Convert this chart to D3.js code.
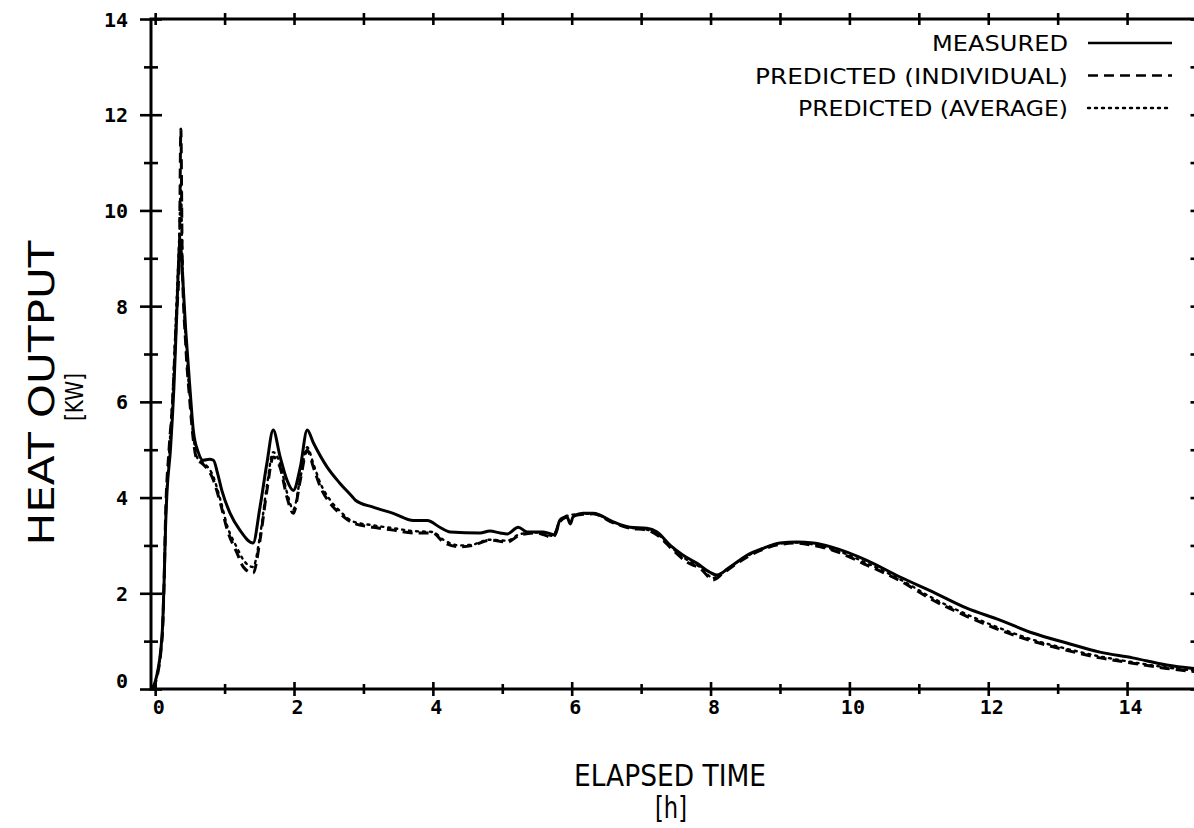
<!DOCTYPE html>
<html><head><meta charset="utf-8">
<script src="https://cdn.jsdelivr.net/npm/d3@7"></script>
<style>
html,body{margin:0;padding:0;background:#fff;}
svg{display:block;}
</style></head>
<body>
<svg id="chart" width="1194" height="828"></svg>
<script>
// ---------- DATA ----------
const measuredT = [-0.04,0.0,0.04,0.08,0.11,0.13,0.15,0.17,0.22,0.27,0.31,0.34,0.36,0.38,0.44,0.50,0.55,0.62,0.69,0.78,0.84,0.90,0.96,1.08,1.22,1.41,1.51,1.61,1.70,1.80,1.90,1.99,2.09,2.19,2.28,2.48,2.66,2.85,2.88,3.14,3.43,3.72,3.92,4.10,4.25,4.68,4.82,4.97,5.07,5.23,5.36,5.59,5.76,5.83,5.93,5.98,6.02,6.16,6.31,6.60,6.84,7.08,7.23,7.42,7.60,7.80,7.99,8.09,8.28,8.53,8.76,9.0,9.24,9.48,9.76,10.25,10.73,11.2,11.69,12.17,12.64,13.13,13.61,14.08,14.57,15.0];
const measuredV = [0.02,0.15,0.4,0.8,1.4,2.3,3.4,4.1,5.0,6.3,7.8,9.0,9.4,9.0,7.5,6.3,5.4,4.95,4.78,4.8,4.78,4.5,4.15,3.67,3.32,3.05,3.8,4.72,5.41,4.85,4.36,4.15,4.63,5.41,5.14,4.63,4.30,4.0,3.95,3.8,3.67,3.52,3.52,3.38,3.28,3.26,3.30,3.26,3.24,3.38,3.28,3.28,3.22,3.53,3.6,3.45,3.6,3.67,3.67,3.49,3.38,3.36,3.28,3.0,2.8,2.63,2.44,2.38,2.55,2.80,2.94,3.05,3.07,3.05,2.96,2.69,2.34,2.03,1.69,1.44,1.17,0.96,0.77,0.65,0.50,0.42];

const individualT = [-0.04,0.0,0.04,0.08,0.11,0.13,0.15,0.20,0.25,0.30,0.35,0.37,0.39,0.44,0.50,0.55,0.60,0.67,0.75,0.82,0.94,1.04,1.18,1.27,1.41,1.51,1.61,1.70,1.80,1.90,1.99,2.09,2.19,2.28,2.38,2.52,2.66,2.85,3.14,3.43,3.72,4.0,4.15,4.39,4.58,4.82,5.07,5.26,5.50,5.73,5.83,5.93,6.16,6.31,6.60,6.84,7.08,7.23,7.46,7.66,7.85,8.04,8.18,8.53,8.76,9.0,9.24,9.48,9.76,10.25,10.73,11.2,11.69,12.17,12.64,13.13,13.61,14.08,14.57,15.0];
const individualV = [0.0,0.12,0.35,0.75,1.35,2.3,3.6,5.0,6.0,7.6,9.2,11.7,9.0,7.2,6.0,5.2,4.8,4.72,4.6,4.43,3.88,3.32,2.84,2.55,2.42,3.11,4.15,4.85,4.63,4.0,3.67,4.36,4.99,4.63,4.22,3.88,3.67,3.47,3.38,3.32,3.26,3.26,3.07,2.97,3.0,3.11,3.07,3.22,3.26,3.17,3.5,3.6,3.65,3.66,3.47,3.36,3.32,3.22,2.90,2.65,2.52,2.28,2.42,2.76,2.92,3.02,3.05,3.0,2.90,2.59,2.26,1.86,1.52,1.23,1.0,0.81,0.65,0.54,0.43,0.36];

const averageT = [-0.04,0.0,0.04,0.08,0.11,0.13,0.15,0.20,0.25,0.30,0.35,0.37,0.39,0.44,0.50,0.55,0.60,0.67,0.75,0.82,0.94,1.04,1.18,1.27,1.41,1.51,1.61,1.70,1.80,1.90,1.99,2.09,2.19,2.28,2.38,2.52,2.66,2.85,3.14,3.43,3.72,4.0,4.15,4.39,4.58,4.82,5.07,5.26,5.50,5.73,5.83,5.93,6.16,6.31,6.60,6.84,7.08,7.23,7.46,7.66,7.85,8.04,8.18,8.53,8.76,9.0,9.24,9.48,9.76,10.25,10.73,11.2,11.69,12.17,12.64,13.13,13.61,14.08,14.57,15.0];
const averageV = [0.0,0.12,0.38,0.78,1.38,2.3,3.5,4.9,6.1,7.8,9.6,10.6,9.1,7.3,6.1,5.3,4.85,4.75,4.65,4.5,3.95,3.4,2.95,2.7,2.55,3.2,4.25,4.95,4.7,4.1,3.75,4.4,5.05,4.7,4.3,3.95,3.72,3.5,3.42,3.36,3.3,3.28,3.12,3.0,3.02,3.12,3.1,3.24,3.27,3.2,3.52,3.62,3.66,3.66,3.48,3.37,3.33,3.24,2.93,2.7,2.55,2.32,2.45,2.78,2.94,3.04,3.06,3.02,2.92,2.63,2.29,1.9,1.56,1.27,1.03,0.84,0.68,0.56,0.45,0.38];

const xMajorTicks = [0,2,4,6,8,10,12,14];
const xMinorTicks = [1,3,5,7,9,11,13];
const yMajorTicks = [0,2,4,6,8,10,12,14];
const yMinorTicks = [1,3,5,7,9,11,13];
const legendLabels = ["MEASURED","PREDICTED (INDIVIDUAL)","PREDICTED (AVERAGE)"];
const xTitle = "ELAPSED TIME", xUnit = "[h]";
const yTitle = "HEAT OUTPUT", yUnit = "[KW]";

// ---------- SCALES ----------
const svg = d3.select("#chart");
const x = d3.scaleLinear().domain([-0.06, 15]).range([151, 1196.5]);
const y = d3.scaleLinear().domain([0, 14]).range([689, 19]);
const X0 = 151, X1 = 1196.5, Y0 = 689, Y1 = 19;

const ink = "#000";
const labelFont = "'DejaVu Sans Mono', monospace";
const titleFont = "'DejaVu Sans', sans-serif";

// ---------- FRAME ----------
svg.append("rect").attr("x", X0).attr("y", Y1).attr("width", X1 - X0).attr("height", Y0 - Y1)
  .attr("fill", "none").attr("stroke", ink).attr("stroke-width", 3);

function crossTicks(g, half, orient) {
  g.select(".domain").remove();
  g.selectAll(".tick line").attr("stroke", ink).attr("stroke-width", 2.6);
  if (orient === "v") g.selectAll(".tick line").attr("x1", -half).attr("x2", half);
  else g.selectAll(".tick line").attr("y1", -half).attr("y2", half);
}

// left axis
const gL = svg.append("g").attr("transform", `translate(${X0},0)`)
  .call(d3.axisLeft(y).tickValues(yMajorTicks).tickSize(11).tickFormat(d3.format("d")));
crossTicks(gL, 11, "v");
gL.selectAll(".tick text").attr("x", -23).attr("dy", "0.35em")
  .attr("font-family", labelFont).attr("font-weight", "bold").attr("font-size", 20).attr("fill", ink)
  .attr("text-anchor", "end")
  .attr("transform", d => d === 0 ? "translate(0,-9)" : null);
const gLm = svg.append("g").attr("transform", `translate(${X0},0)`)
  .call(d3.axisLeft(y).tickValues(yMinorTicks).tickSize(7).tickFormat(""));
crossTicks(gLm, 7, "v");

// right axis (inward ticks only visible)
const gR = svg.append("g").attr("transform", `translate(${X1},0)`)
  .call(d3.axisRight(y).tickValues(yMajorTicks.concat(yMinorTicks)).tickSize(6).tickFormat(""));
crossTicks(gR, 6, "v");

// bottom axis
const gB = svg.append("g").attr("transform", `translate(0,${Y0})`)
  .call(d3.axisBottom(x).tickValues(xMajorTicks).tickSize(7).tickFormat(d3.format("d")));
crossTicks(gB, 7, "h");
gB.selectAll(".tick text").attr("y", 18).attr("dy", "0.35em").attr("dx", 3)
  .attr("font-family", labelFont).attr("font-weight", "bold").attr("font-size", 20).attr("fill", ink);
const gBm = svg.append("g").attr("transform", `translate(0,${Y0})`)
  .call(d3.axisBottom(x).tickValues(xMinorTicks).tickSize(5).tickFormat(""));
crossTicks(gBm, 5, "h");

// top axis
const gT = svg.append("g").attr("transform", `translate(0,${Y1})`)
  .call(d3.axisTop(x).tickValues(xMajorTicks.concat(xMinorTicks)).tickSize(6).tickFormat(""));
crossTicks(gT, 6, "h");

// ---------- LINES ----------
const line = d3.line().x(d => x(d[0])).y(d => y(d[1])).curve(d3.curveMonotoneX);
const zip = (a, b) => a.map((t, i) => [t, b[i]]);
svg.append("clipPath").attr("id", "plotclip").append("rect")
  .attr("x", X0).attr("y", Y1 - 2).attr("width", X1 - X0).attr("height", Y0 - Y1 + 6);

const plot = svg.append("g").attr("clip-path", "url(#plotclip)");
plot.append("path").datum(zip(averageT, averageV)).attr("d", line)
  .attr("fill", "none").attr("stroke", ink).attr("stroke-width", 2.4)
  .attr("stroke-dasharray", "2,5").attr("stroke-linecap", "round");
plot.append("path").datum(zip(individualT, individualV)).attr("d", line)
  .attr("fill", "none").attr("stroke", ink).attr("stroke-width", 3)
  .attr("stroke-dasharray", "10,6").attr("stroke-linejoin", "round");
plot.append("path").datum(zip(measuredT, measuredV)).attr("d", line)
  .attr("fill", "none").attr("stroke", ink).attr("stroke-width", 3)
  .attr("stroke-linejoin", "round");

// ---------- LEGEND ----------
const legendStyles = [null, "10,6", "2,5"];
const legendWidths = [136, 313, 270];
const leg = svg.append("g");
legendLabels.forEach((lab, i) => {
  const cy = 43 + i * 32.5;
  leg.append("text").attr("x", 1068).attr("y", cy + 8).attr("text-anchor", "end")
    .attr("font-family", titleFont).attr("font-size", 21).attr("fill", ink)
    .attr("textLength", legendWidths[i]).attr("lengthAdjust", "spacingAndGlyphs")
    .text(lab);
  leg.append("line").attr("x1", 1088).attr("x2", 1172).attr("y1", cy).attr("y2", cy)
    .attr("stroke", ink).attr("stroke-width", i === 2 ? 2.4 : 2.6)
    .attr("stroke-dasharray", legendStyles[i]).attr("stroke-linecap", i === 2 ? "round" : "butt");
});

// ---------- AXIS TITLES ----------
svg.append("text").attr("transform", "translate(54,393) rotate(-90)").attr("text-anchor", "middle")
  .attr("font-family", titleFont).attr("font-size", 36).attr("fill", ink)
  .attr("textLength", 305).attr("lengthAdjust", "spacingAndGlyphs").text(yTitle);
svg.append("text").attr("transform", "translate(83,397) rotate(-90)").attr("text-anchor", "middle")
  .attr("font-family", titleFont).attr("font-size", 24).attr("fill", ink)
  .attr("textLength", 48).attr("lengthAdjust", "spacingAndGlyphs").text(yUnit);
svg.append("text").attr("x", 670).attr("y", 786).attr("text-anchor", "middle")
  .attr("font-family", titleFont).attr("font-size", 30).attr("fill", ink)
  .attr("textLength", 192).attr("lengthAdjust", "spacingAndGlyphs").text(xTitle);
svg.append("text").attr("x", 671).attr("y", 818).attr("text-anchor", "middle")
  .attr("font-family", titleFont).attr("font-size", 30).attr("fill", ink)
  .attr("textLength", 32).attr("lengthAdjust", "spacingAndGlyphs").text(xUnit);
</script>
</body></html>
